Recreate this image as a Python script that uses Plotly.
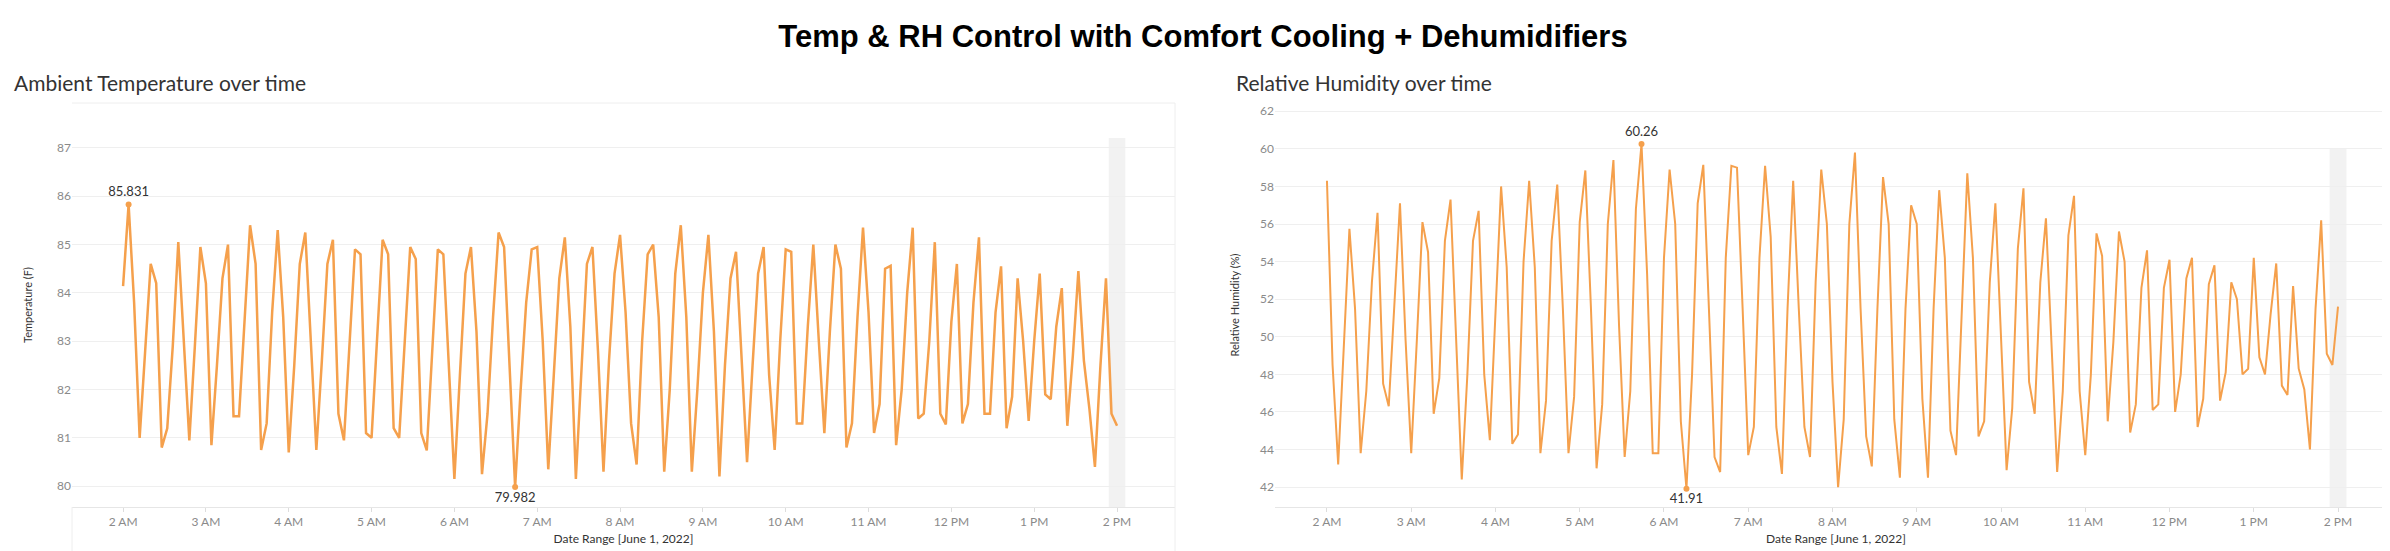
import pandas as pd
import plotly.graph_objects as go

temp = [84.14, 85.831, 83.8, 81.0, 82.8, 84.6, 84.2, 80.8, 81.2, 82.9, 85.05, 83.0, 80.95, 82.9, 84.95, 84.2,
        80.85, 82.5, 84.3, 85.0, 81.45, 81.45, 83.5, 85.4, 84.6, 80.75, 81.3, 83.6, 85.3, 83.5, 80.7, 82.5,
        84.6, 85.25, 83.0, 80.75, 82.6, 84.6, 85.1, 81.5, 80.95, 83.0, 84.9, 84.8, 81.1, 81.0, 83.2, 85.1,
        84.8, 81.2, 81.0, 83.0, 84.95, 84.7, 81.1, 80.74, 82.8, 84.9, 84.8, 82.5, 80.15, 82.3, 84.4, 84.95,
        83.2, 80.25, 81.5, 83.5, 85.25, 84.95, 82.5, 79.982, 82.0, 83.8, 84.9, 84.95, 83.0, 80.35, 82.3, 84.3,
        85.15, 83.3, 80.15, 82.3, 84.6, 84.95, 82.8, 80.3, 82.6, 84.4, 85.2, 83.6, 81.3, 80.45, 83.0, 84.8,
        85.0, 83.5, 80.3, 82.0, 84.4, 85.4, 83.5, 80.3, 82.0, 84.0, 85.2, 83.2, 80.2, 82.5, 84.3, 84.85,
        82.8, 80.5, 82.5, 84.4, 84.95, 82.3, 80.75, 83.0, 84.9, 84.85, 81.3, 81.3, 83.3, 85.0, 83.0, 81.1,
        83.2, 85.0, 84.5, 80.8, 81.3, 83.5, 85.35, 83.6, 81.1, 81.7, 84.5, 84.56, 80.85, 82.0, 84.0, 85.35,
        81.4, 81.5, 83.0, 85.05, 81.5, 81.28, 83.4, 84.6, 81.3, 81.7, 83.8, 85.15, 81.5, 81.5, 83.6, 84.55,
        81.2, 81.85, 84.3, 83.0, 81.35, 83.0, 84.4, 81.9, 81.8, 83.3, 84.1, 81.25, 82.7, 84.45, 82.6, 81.6,
        80.4, 82.5, 84.3, 81.5, 81.25]

rh = [58.3, 48.5, 43.2, 49.8, 55.75, 51.5, 43.8, 47.1, 52.9, 56.6, 47.5, 46.3, 51.5, 57.1, 49.8, 43.8,
      49.8, 56.1, 54.5, 45.9, 47.8, 55.1, 57.3, 49.8, 42.4, 48.0, 55.1, 56.7, 48.0, 44.5, 51.5, 58.0,
      53.7, 44.3, 44.8, 54.0, 58.3, 53.7, 43.8, 46.6, 55.1, 58.1, 51.5, 43.8, 46.8, 56.1, 58.85, 51.5,
      43.0, 46.4, 56.0, 59.4, 50.6, 43.6, 47.1, 56.8, 60.26, 53.3, 43.8, 43.8, 54.2, 58.9, 56.0, 45.5,
      41.91, 48.0, 57.1, 59.15, 51.5, 43.6, 42.8, 54.2, 59.1, 59.0, 51.5, 43.7, 45.2, 54.2, 59.1, 55.3,
      45.2, 42.7, 51.5, 58.3, 51.5, 45.2,
      43.6, 52.9, 58.9, 56.0, 47.6, 42.0, 45.6, 56.0, 59.8, 51.5, 44.7, 43.1, 51.5, 58.5, 56.0, 45.6,
      42.5, 51.5, 57.0, 56.0, 46.7, 42.5, 51.5, 57.8, 54.2, 45.0, 43.7, 51.5, 58.7, 54.2, 44.7, 45.5,
      52.9, 57.1, 49.7, 42.9, 46.2, 54.7, 57.9, 47.6, 45.9, 52.9, 56.3, 49.7, 42.8, 47.1, 55.4, 57.5,
      47.1, 43.7, 48.0, 55.5, 54.3, 45.5, 49.7, 55.6, 54.0, 44.9, 46.4, 52.6, 54.6, 46.1, 46.4, 52.6,
      54.1, 46.0, 48.0, 53.1, 54.2, 45.2, 46.7, 52.8, 53.8, 46.6, 48.1, 52.9, 52.0, 48.0, 48.3, 54.2,
      48.9, 48.0, 51.2, 53.9, 47.4, 46.9, 52.7, 48.3, 47.2, 44.0, 51.5, 56.2, 49.1, 48.5, 51.6]

tick_hours = ["02:00", "03:00", "04:00", "05:00", "06:00", "07:00", "08:00", "09:00", "10:00",
              "11:00", "12:00", "13:00", "14:00"]
tick_text = ["2 AM", "3 AM", "4 AM", "5 AM", "6 AM", "7 AM", "8 AM", "9 AM", "10 AM", "11 AM",
             "12 PM", "1 PM", "2 PM"]

day = "2022-06-01 "
t_temp = pd.date_range(day + "02:00", day + "14:00", periods=len(temp))
t_rh = pd.date_range(day + "02:00", day + "14:00", periods=len(rh))
tickvals = [pd.Timestamp(day + h) for h in tick_hours]

ORANGE = "#F5A04C"
GRID = "#EFEFEF"
FONT = "Liberation Sans"

fig = go.Figure()
fig.add_trace(go.Scatter(x=t_temp, y=temp, mode="lines", line=dict(color=ORANGE, width=2.5),
                         xaxis="x", yaxis="y", showlegend=False))
fig.add_trace(go.Scatter(x=t_rh, y=rh, mode="lines", line=dict(color=ORANGE, width=2),
                         xaxis="x2", yaxis="y2", showlegend=False))


def extremes(ts, vals, xa, ya, fmt):
    imax = max(range(len(vals)), key=lambda i: vals[i])
    imin = min(range(len(vals)), key=lambda i: vals[i])
    fig.add_trace(go.Scatter(x=[ts[imax], ts[imin]], y=[vals[imax], vals[imin]], mode="markers+text",
                             marker=dict(color=ORANGE, size=6),
                             text=[fmt(vals[imax]), fmt(vals[imin])],
                             textposition=["top center", "bottom center"],
                             textfont=dict(size=13, color="#333", family="Lato"),
                             xaxis=xa, yaxis=ya, showlegend=False))


extremes(t_temp, temp, "x", "y", lambda v: f"{v:.3f}")
extremes(t_rh, rh, "x2", "y2", lambda v: f"{v:.2f}")

xr = [pd.Timestamp(day + "01:23"), pd.Timestamp(day + "14:42")]
common_x = dict(type="date", range=xr, tickvals=tickvals, ticktext=tick_text, showgrid=False,
                zeroline=False, showline=True, linecolor="#E6E6E6", ticks="outside", ticklen=4,
                tickcolor="#DDD", tickfont=dict(size=12, color="#8a8a8a", family="Lato"),
                title=dict(text="Date Range [June 1, 2022]", font=dict(size=12, color="#333", family="Lato"),
                           standoff=6))
common_y = dict(showgrid=True, gridcolor=GRID, zeroline=False, ticks="",
                tickfont=dict(size=12, color="#8a8a8a", family="Lato"))

top_frac = 1 - 95 / 551
bot_frac = 1 - 499 / 551

fig.update_layout(
    width=2390, height=551, margin=dict(l=0, r=0, t=0, b=0),
    paper_bgcolor="white", plot_bgcolor="white",
    xaxis=dict(domain=[64 / 2390, 1167 / 2390], anchor="y", **common_x),
    yaxis=dict(domain=[bot_frac, top_frac], range=[79.57, 87.93], tickvals=list(range(80, 88)),
               title=dict(text="Temperature (F)", font=dict(size=11, color="#333", family="Lato"), standoff=22),
               anchor="x", **common_y),
    xaxis2=dict(domain=[1267 / 2390, 2389 / 2390], anchor="y2", **common_x),
    yaxis2=dict(domain=[bot_frac, top_frac], range=[40.94, 62.44], tickvals=list(range(42, 63, 2)),
                title=dict(text="Relative Humidity (%)", font=dict(size=11, color="#333", family="Lato"), standoff=18),
                anchor="x2", **common_y),
    title=dict(text="<b>Temp &amp; RH Control with Comfort Cooling + Dehumidifiers</b>", x=0.5, xanchor="center",
               y=1 - 28 / 551, yanchor="middle", font=dict(size=31, color="black", family=FONT)),
    annotations=[
        dict(text="Ambient Temperature over time", xref="paper", yref="paper", x=4 / 2390, y=1 - 75 / 551,
             xanchor="left", yanchor="middle", showarrow=False, font=dict(size=21, color="#333", family="Lato")),
        dict(text="Relative Humidity over time", xref="paper", yref="paper", x=1226 / 2390, y=1 - 75 / 551,
             xanchor="left", yanchor="middle", showarrow=False, font=dict(size=21, color="#333", family="Lato")),
    ],
    shapes=[
        dict(type="rect", xref="x", yref="paper", x0=pd.Timestamp(day + "13:54"), x1=pd.Timestamp(day + "14:06"),
             y0=bot_frac, y1=1 - 130 / 551, fillcolor="#F2F2F2", line=dict(width=0), layer="below"),
        dict(type="rect", xref="x2", yref="paper", x0=pd.Timestamp(day + "13:54"), x1=pd.Timestamp(day + "14:06"),
             y0=bot_frac, y1=1 - 140 / 551, fillcolor="#F2F2F2", line=dict(width=0), layer="below"),
        dict(type="line", xref="paper", yref="paper", x0=64 / 2390, x1=1167 / 2390, y0=top_frac, y1=top_frac,
             line=dict(color="#EEEEEE", width=1)),
        dict(type="line", xref="paper", yref="paper", x0=1167 / 2390, x1=1167 / 2390, y0=0, y1=top_frac,
             line=dict(color="#EEEEEE", width=1)),
        dict(type="line", xref="paper", yref="paper", x0=64 / 2390, x1=64 / 2390, y0=0, y1=bot_frac,
             line=dict(color="#EEEEEE", width=1)),
    ],
)

fig.write_html("out.html")
